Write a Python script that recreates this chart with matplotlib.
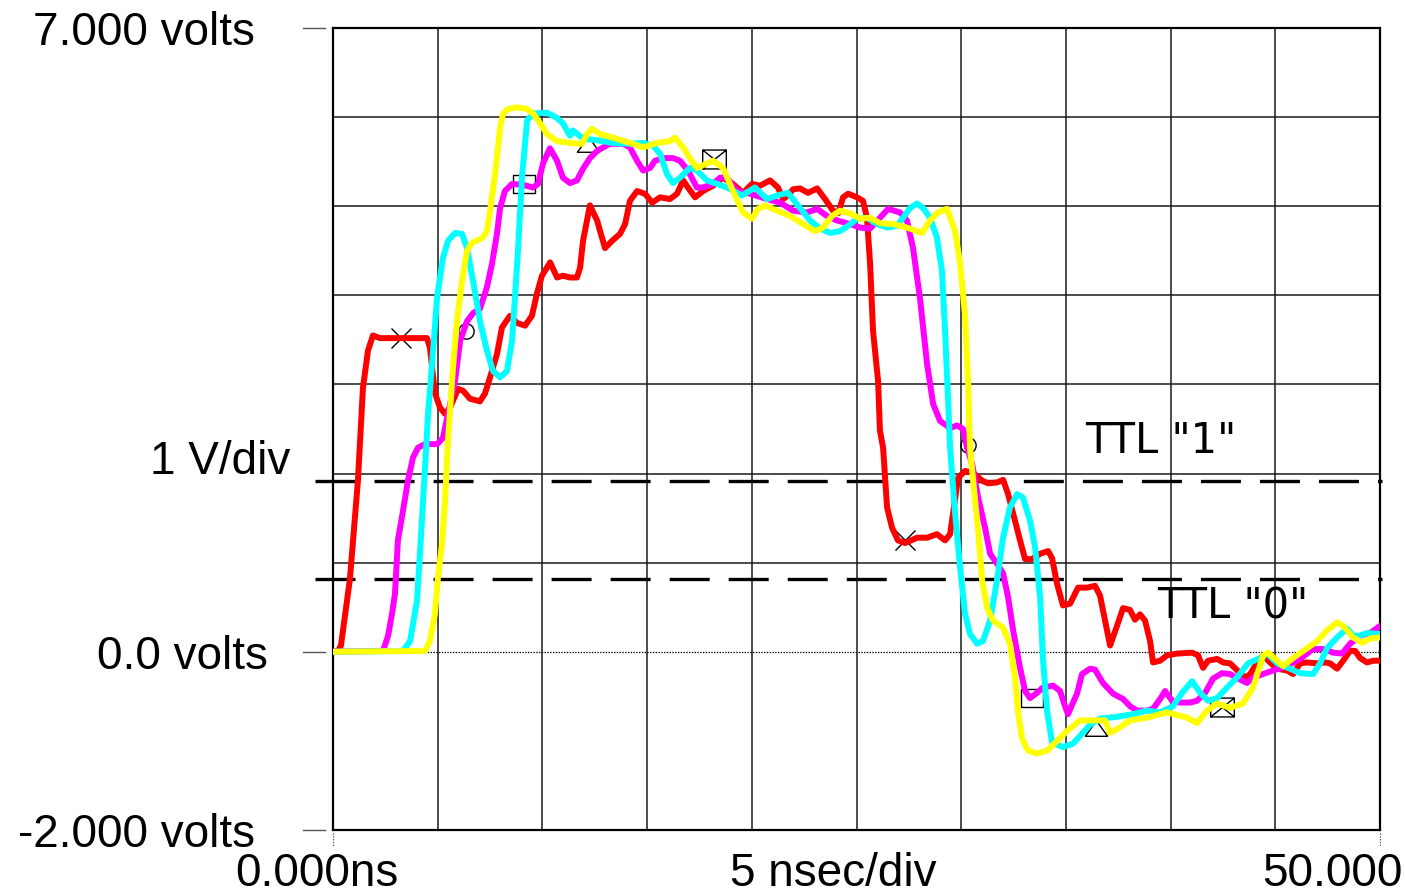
import matplotlib
matplotlib.use("Agg")
import matplotlib.pyplot as plt
from matplotlib.path import Path

plt.rcParams['lines.scale_dashes'] = False

# ---------------- data ----------------
T_MIN, T_MAX = 0.0, 50.0          # ns
V_MIN, V_MAX = -2.0, 7.0          # volts
t_grid = [5, 10, 15, 20, 25, 30, 35, 40, 45]
v_grid = [1, 2, 3, 4, 5, 6]

ttl_levels = [1.92, 0.82]
ttl_labels = ['TTL "1"', 'TTL "0"']
ttl_label_pos = [(35.91, 2.23), (39.35, 0.37)]

y_labels = ["7.000 volts", "1 V/div", "0.0 volts", "-2.000 volts"]
x_labels = ["0.000ns", "5 nsec/div", "50.000ns"]

red = [(0, 0), (0.24, 0.01), (0.38, 0.07), (0.81, 0.82), (1.19, 1.92), (1.43, 2.96), (1.67, 3.38),
       (1.91, 3.55), (2.24, 3.52), (4.49, 3.52), (4.63, 3.41), (4.87, 2.90), (5.11, 2.74), (5.35, 2.67),
       (5.59, 2.74), (5.97, 2.95), (6.21, 2.93), (6.54, 2.84), (7.02, 2.81), (7.26, 2.90), (7.50, 3.08),
       (7.83, 3.34), (8.07, 3.64), (8.45, 3.77), (8.79, 3.69), (9.17, 3.66), (9.50, 3.77), (9.74, 4.02),
       (9.98, 4.22), (10.37, 4.37), (10.70, 4.20), (10.98, 4.22), (11.32, 4.20), (11.65, 4.20),
       (11.80, 4.31), (11.94, 4.61), (12.27, 5.01), (12.61, 4.84), (12.99, 4.53), (13.32, 4.61),
       (13.71, 4.69), (13.95, 4.80), (14.18, 5.06), (14.52, 5.17), (14.90, 5.14), (15.24, 5.04),
       (15.62, 5.10), (16.09, 5.08), (16.43, 5.14), (16.72, 5.29), (16.95, 5.21), (17.29, 5.10),
       (17.67, 5.17), (18.15, 5.23), (18.63, 5.32), (19.10, 5.25), (19.58, 5.15), (20.01, 5.25),
       (20.39, 5.23), (20.87, 5.29), (21.25, 5.21), (21.49, 5.08), (21.73, 5.12), (21.97, 5.19),
       (22.30, 5.20), (22.69, 5.15), (23.12, 5.20), (23.50, 5.08), (23.88, 4.95), (24.12, 4.92),
       (24.36, 5.10), (24.60, 5.14), (25.03, 5.10), (25.31, 5.06), (25.50, 4.87), (25.65, 4.35),
       (25.79, 3.60), (26.03, 3.04), (26.12, 2.48), (26.27, 2.29), (26.46, 1.62), (26.70, 1.39),
       (26.98, 1.25), (27.32, 1.22), (27.89, 1.28), (28.37, 1.28), (28.84, 1.32), (29.23, 1.25),
       (29.47, 1.32), (29.61, 1.55), (29.85, 1.95), (30.18, 2.03), (30.57, 2.01), (31.00, 1.92),
       (31.28, 1.89), (31.71, 1.90), (32.00, 1.93), (32.24, 1.77), (32.57, 1.47), (32.81, 1.25),
       (33.05, 1.04), (33.38, 1.04), (33.77, 1.10), (34.15, 1.13), (34.34, 1.05), (34.58, 0.76),
       (34.86, 0.52), (35.20, 0.54), (35.58, 0.72), (36.01, 0.72), (36.39, 0.74), (36.63, 0.63),
       (36.87, 0.35), (37.11, 0.07), (37.44, 0.29), (37.73, 0.49), (38.06, 0.47), (38.30, 0.36),
       (38.54, 0.42), (38.78, 0.35), (39.02, 0.12), (39.16, -0.12), (39.50, -0.10), (39.83, -0.04),
       (40.31, -0.02), (41.03, -0.01), (41.31, -0.04), (41.55, -0.18), (41.79, -0.10), (42.22, -0.08),
       (42.51, -0.12), (42.84, -0.13), (43.32, -0.24), (43.56, -0.29), (43.80, -0.25), (44.13, -0.12),
       (44.42, -0.04), (44.75, -0.12), (45.09, -0.19), (45.56, -0.21), (45.85, -0.25), (46.18, -0.13),
       (46.52, -0.12), (47.00, -0.13), (47.38, -0.12), (47.62, -0.13), (47.95, -0.19), (48.24, -0.10),
       (48.57, 0.01), (48.81, 0.01), (49.05, -0.07), (49.38, -0.12), (49.67, -0.10), (50.00, -0.10)]

magenta = [(0, 0), (2.39, 0.01), (2.63, 0.18), (2.82, 0.43), (2.96, 0.65), (3.10, 1.25), (3.34, 1.58),
           (3.58, 1.92), (3.82, 2.18), (4.06, 2.29), (4.39, 2.33), (4.97, 2.33), (5.25, 2.40), (5.49, 2.67),
           (5.83, 3.04), (6.07, 3.49), (6.40, 3.71), (6.69, 3.80), (7.02, 3.85), (7.35, 4.09), (7.59, 4.35),
           (7.83, 4.69), (7.98, 4.98), (8.21, 5.17), (8.55, 5.25), (9.07, 5.24), (9.55, 5.21), (9.79, 5.25),
           (10.03, 5.48), (10.36, 5.65), (10.70, 5.51), (10.98, 5.32), (11.32, 5.26), (11.65, 5.29),
           (11.94, 5.42), (12.27, 5.54), (12.61, 5.62), (12.90, 5.66), (13.23, 5.70), (13.85, 5.70),
           (14.18, 5.66), (14.52, 5.51), (14.81, 5.40), (15.14, 5.43), (15.38, 5.51), (15.76, 5.54),
           (16.24, 5.54), (16.57, 5.51), (16.95, 5.40), (17.38, 5.21), (17.67, 5.21), (18.15, 5.25),
           (18.48, 5.32), (18.82, 5.32), (19.29, 5.17), (19.92, 5.14), (20.73, 5.08), (21.35, 5.04),
           (21.97, 4.95), (22.64, 4.93), (23.12, 4.97), (23.59, 4.89), (24.07, 4.84), (24.69, 4.80),
           (25.17, 4.76), (25.65, 4.75), (26.12, 4.87), (26.51, 4.97), (27.08, 4.93), (27.41, 4.84),
           (27.70, 4.53), (28.03, 3.97), (28.37, 3.23), (28.66, 2.78), (28.99, 2.59), (29.47, 2.51),
           (29.80, 2.54), (30.09, 2.50), (30.28, 2.29), (30.52, 2.11), (30.81, 1.73), (31.14, 1.39),
           (31.38, 1.10), (31.71, 0.99), (32.00, 0.88), (32.24, 0.61), (32.48, 0.24), (32.81, -0.18),
           (33.05, -0.44), (33.29, -0.52), (33.62, -0.46), (33.91, -0.40), (34.39, -0.38), (34.72, -0.44),
           (34.96, -0.61), (35.10, -0.70), (35.53, -0.47), (35.77, -0.25), (36.15, -0.19), (36.39, -0.20),
           (36.77, -0.35), (37.25, -0.47), (37.73, -0.53), (38.06, -0.61), (38.40, -0.66), (38.87, -0.66),
           (39.16, -0.64), (39.50, -0.53), (39.74, -0.44), (40.07, -0.55), (40.45, -0.57), (40.93, -0.57),
           (41.26, -0.55), (41.65, -0.46), (42.03, -0.30), (42.46, -0.24), (42.84, -0.25), (43.22, -0.30),
           (43.65, -0.35), (43.94, -0.29), (44.42, -0.25), (44.89, -0.21), (45.56, -0.16), (46.18, -0.08),
           (46.80, 0.03), (47.38, 0.03), (47.76, -0.01), (48.19, -0.02), (48.57, 0.09), (49.05, 0.18),
           (49.53, 0.21), (50.00, 0.29)]

cyan = [(0, 0), (3.34, 0.01), (3.68, 0.12), (4.01, 0.57), (4.16, 1.13), (4.30, 1.69), (4.44, 2.26),
        (4.54, 2.67), (4.73, 3.23), (4.97, 3.97), (5.25, 4.42), (5.49, 4.61), (5.83, 4.70), (6.16, 4.69),
        (6.40, 4.53), (6.69, 4.16), (7.02, 3.71), (7.35, 3.38), (7.64, 3.15), (7.98, 3.08), (8.31, 3.15),
        (8.55, 3.49), (8.69, 3.97), (8.84, 4.53), (9.03, 5.34), (9.27, 5.96), (9.55, 6.04), (10.22, 6.05),
        (10.70, 5.99), (10.98, 5.93), (11.32, 5.79), (11.46, 5.85), (11.94, 5.76), (12.61, 5.74),
        (13.37, 5.71), (14.18, 5.70), (14.81, 5.71), (15.28, 5.68), (15.62, 5.59), (15.95, 5.36),
        (16.24, 5.26), (16.57, 5.32), (17.05, 5.43), (17.38, 5.40), (17.86, 5.29), (18.34, 5.25),
        (18.82, 5.21), (19.29, 5.15), (19.53, 5.12), (20.15, 5.21), (20.73, 5.08), (21.20, 5.12),
        (21.73, 5.15), (22.30, 4.98), (22.78, 4.84), (23.26, 4.75), (23.74, 4.70), (24.21, 4.72),
        (24.60, 4.78), (25.03, 4.86), (25.50, 4.87), (25.98, 4.80), (26.46, 4.76), (26.94, 4.78),
        (27.22, 4.87), (27.56, 4.98), (27.89, 5.03), (28.18, 4.98), (28.51, 4.87), (28.84, 4.65),
        (29.08, 4.28), (29.23, 3.60), (29.37, 2.85), (29.47, 2.29), (29.71, 1.55), (29.95, 0.94),
        (30.18, 0.43), (30.42, 0.20), (30.76, 0.09), (31.04, 0.12), (31.38, 0.35), (31.71, 0.80),
        (32.00, 1.28), (32.33, 1.62), (32.67, 1.77), (32.95, 1.73), (33.29, 1.47), (33.53, 1.17),
        (33.77, 0.61), (33.91, -0.10), (34.10, -0.66), (34.34, -1.02), (34.86, -1.07), (35.34, -1.03),
        (35.77, -0.92), (36.15, -0.82), (36.63, -0.75), (37.44, -0.73), (38.21, -0.70), (38.87, -0.66),
        (39.50, -0.68), (40.12, -0.61), (40.55, -0.46), (41.03, -0.33), (41.41, -0.46), (41.79, -0.55),
        (42.22, -0.52), (42.70, -0.40), (43.17, -0.29), (43.70, -0.13), (44.27, -0.07), (44.61, -0.02),
        (45.09, -0.13), (45.70, -0.19), (46.18, -0.24), (46.80, -0.25), (47.14, -0.13), (47.47, 0.04),
        (47.95, 0.16), (48.43, 0.26), (48.72, 0.18), (49.05, 0.18), (49.38, 0.21), (50.00, 0.20)]

yellow = [(0, 0), (4.39, 0.01), (4.63, 0.12), (4.87, 0.43), (5.01, 0.83), (5.21, 1.21), (5.35, 1.69),
          (5.49, 2.37), (5.73, 3.19), (5.92, 3.71), (6.16, 4.16), (6.40, 4.50), (6.64, 4.59), (7.12, 4.64),
          (7.35, 4.72), (7.50, 4.95), (7.74, 5.36), (7.98, 5.88), (8.12, 6.04), (8.36, 6.09), (8.79, 6.11),
          (9.27, 6.09), (9.55, 6.04), (9.89, 5.93), (10.22, 5.81), (10.70, 5.73), (11.32, 5.71),
          (11.89, 5.70), (12.13, 5.81), (12.37, 5.87), (12.75, 5.81), (13.37, 5.77), (14.18, 5.71),
          (14.81, 5.66), (15.47, 5.71), (16.09, 5.73), (16.33, 5.77), (16.72, 5.66), (17.05, 5.54),
          (17.38, 5.43), (17.86, 5.48), (18.15, 5.51), (18.63, 5.43), (19.10, 5.17), (19.58, 4.93),
          (20.01, 4.86), (20.30, 4.97), (20.63, 5.01), (21.20, 4.95), (21.83, 4.89), (22.45, 4.80),
          (23.02, 4.72), (23.40, 4.76), (23.83, 4.89), (24.21, 4.95), (24.69, 4.92), (25.17, 4.86),
          (25.65, 4.87), (26.12, 4.81), (26.75, 4.80), (27.41, 4.76), (28.13, 4.70), (28.51, 4.84),
          (28.89, 4.93), (29.32, 4.97), (29.71, 4.72), (29.95, 4.35), (30.18, 3.79), (30.33, 3.04),
          (30.42, 2.29), (30.57, 1.92), (30.81, 1.36), (31.00, 0.80), (31.24, 0.49), (31.52, 0.35),
          (32.00, 0.27), (32.33, 0.09), (32.57, -0.29), (32.71, -0.66), (32.90, -0.97), (33.19, -1.11),
          (33.62, -1.14), (34.10, -1.11), (34.58, -1.00), (35.05, -0.89), (35.67, -0.77), (36.49, -0.77),
          (36.87, -0.77), (37.11, -0.91), (37.58, -0.85), (38.06, -0.77), (38.87, -0.74), (39.83, -0.68),
          (40.79, -0.74), (41.26, -0.80), (41.74, -0.66), (42.22, -0.58), (42.84, -0.63), (43.46, -0.58),
          (43.94, -0.40), (44.42, -0.04), (44.65, -0.01), (45.09, -0.10), (45.37, -0.16), (45.85, -0.07),
          (46.52, 0.04), (47.00, 0.12), (47.47, 0.24), (47.95, 0.33), (48.24, 0.29), (48.72, 0.16),
          (49.15, 0.10), (49.53, 0.15), (50.00, 0.16)]

series = [red, magenta, cyan, yellow]
series_colors = ['#ff0000', '#ff00ff', '#00ffff', '#ffff00']

mark_x = [(3.25, 3.52), (27.32, 1.25)]        # on red
mark_circle = [(6.35, 3.60), (30.33, 2.32)]   # on magenta
mark_square = [(9.12, 5.25), (33.38, -0.52)]  # on magenta
mark_tri = [(12.18, 5.70), (36.42, -0.85)]    # on cyan
mark_boxx = [(18.20, 5.53), (42.45, -0.62)]   # on yellow

# ---------------- figure ----------------
W, H = 1405, 896
fig = plt.figure(figsize=(W / 100, H / 100), dpi=100)
fig.patch.set_facecolor('white')
L, R, T, B = 333, 1380, 28, 830
ax = fig.add_axes([L / W, 1 - B / H, (R - L) / W, (B - T) / H])
ax.set_xlim(T_MIN, T_MAX)
ax.set_ylim(V_MIN, V_MAX)
ax.set_xticks([])
ax.set_yticks([])
for s in ax.spines.values():
    s.set_linewidth(1.6)
    s.set_color('black')
    s.set_zorder(1)

grid_kw = dict(color='#1a1a1a', lw=1.1, zorder=1)
for t in t_grid:
    ax.axvline(t, **grid_kw)
for v in v_grid:
    ax.axhline(v, **grid_kw)
ax.axhline(0, color='black', lw=0.9, ls=(0, (1, 1)), zorder=1)

# short ticks outside on the left
for v in (V_MAX, 0, V_MIN):
    ax.plot([-1.43, -0.38], [v, v], color='#555555', lw=1.0, clip_on=False, zorder=1)
for t in (T_MIN, T_MAX):
    ax.plot([t, t], [-2.03, -2.18], color='#555555', lw=0.8, ls=(0, (1, 1)), clip_on=False, zorder=1)

# TTL threshold dashed lines
for lev in ttl_levels:
    ax.plot([-0.86, 50.1], [lev, lev], color='black', lw=2.4, dashes=(28.8, 13.7),
            solid_capstyle='butt', dash_capstyle='butt', clip_on=False, zorder=2)

# marker shapes
rect = Path([(-1, -0.8), (1, -0.8), (1, 0.8), (-1, 0.8), (-1, -0.8)])
tri = Path([(0, 0.7), (1, -0.7), (-1, -0.7), (0, 0.7)])
boxx = Path([(-1, -0.8), (1, -0.8), (1, 0.8), (-1, 0.8), (-1, -0.8), (1, 0.8), (-1, 0.8), (1, -0.8)],
            [Path.MOVETO, Path.LINETO, Path.LINETO, Path.LINETO, Path.LINETO, Path.LINETO,
             Path.MOVETO, Path.LINETO])
mk_kw = dict(ls='none', mfc='none', mec='black', mew=1.0, zorder=2.5)
ax.plot(*zip(*mark_x), marker='x', ms=15, **mk_kw)
ax.plot(*zip(*mark_circle), marker='o', ms=11, **mk_kw)
ax.plot(*zip(*mark_square), marker=rect, ms=16, **mk_kw)
ax.plot(*zip(*mark_tri), marker=tri, ms=16, **mk_kw)
ax.plot(*zip(*mark_boxx), marker=boxx, ms=17, **mk_kw)

# traces
for i, (data, col) in enumerate(zip(series, series_colors)):
    tt, vv = zip(*data)
    ax.plot(tt, vv, color=col, lw=4.3, solid_joinstyle='round', solid_capstyle='round', zorder=3 + i)

# labels
lab_kw = dict(fontsize=33, family=['Liberation Sans', 'DejaVu Sans'], color='black',
              transform=ax.transData, clip_on=False, va='baseline')
ax.text(-3.73, 6.81, y_labels[0], ha='right', **lab_kw)
ax.text(-2.05, 1.99, y_labels[1], ha='right', **lab_kw)
ax.text(-3.10, -0.19, y_labels[2], ha='right', **lab_kw)
ax.text(-3.73, -2.19, y_labels[3], ha='right', **lab_kw)
ax.text(-4.68, -2.63, x_labels[0], ha='left', **lab_kw)
ax.text(18.96, -2.63, x_labels[1], ha='left', **lab_kw)
ax.text(44.37, -2.63, x_labels[2], ha='left', **lab_kw)

for txt, (tx, ty) in zip(ttl_labels, ttl_label_pos):
    ax.text(tx, ty, txt, fontsize=30, family=['DejaVu Sans'], color='black',
            ha='left', va='baseline', zorder=6)

fig.savefig('out.png', dpi=100)
